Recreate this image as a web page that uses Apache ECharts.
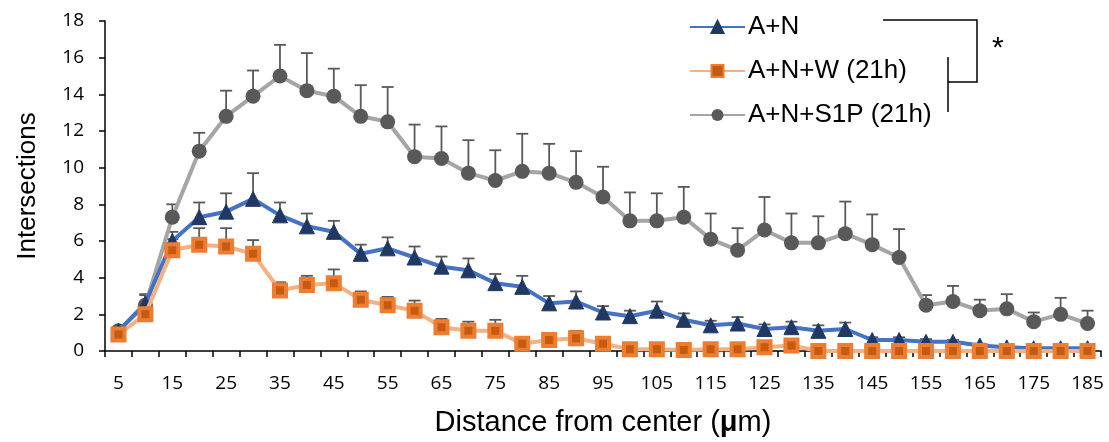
<!DOCTYPE html>
<html>
<head>
<meta charset="utf-8">
<script src="https://cdn.jsdelivr.net/npm/echarts@6/dist/echarts.min.js"></script>
<style>
  html, body { margin: 0; padding: 0; background: #fff; }
  #chart { width: 1109px; height: 442px; }
</style>
</head>
<body>
<div id="chart"></div>
<script>
// distance from soma (um)
var distance = ['5','10','15','20','25','30','35','40','45','50','55','60','65','70','75','80','85','90','95','100',
                '105','110','115','120','125','130','135','140','145','150','155','160','165','170','175','180','185'];

var anMean = [1.1,2.6,6.0,7.3,7.6,8.3,7.4,6.8,6.5,5.3, 5.6,5.1,4.6,4.4,3.7,3.5,2.6,2.7,2.1,1.9,
              2.2,1.7,1.4,1.5,1.2,1.3,1.1,1.2,0.6,0.6, 0.5,0.5,0.3,0.2,0.15,0.15,0.15];
var anErr  = [0.2,0.5,0.5,0.8,1.0,1.4,0.7,0.7,0.6,0.5, 0.6,0.6,0.55,0.65,0.5,0.6,0.4,0.55,0.35,0.3,
              0.5,0.35,0.25,0.35,0.25,0.3,0.3,0.35,0.15,0.15, 0.15,0.1,0.1,0.1,0.05,0.05,0.05];

var anwMean = [0.9,2.0,5.5,5.8,5.7,5.3,3.3,3.6,3.7,2.8, 2.5,2.2,1.3,1.1,1.1,0.4,0.6,0.7,0.4,0.1,
               0.1,0.05,0.1,0.1,0.2,0.3,0,0,0,0, 0,0,0,0,0,0,0];
var anwErr  = [0.1,0.4,0.6,0.9,1.0,0.75,0.45,0.5,0.75,0.45, 0.45,0.55,0.45,0.5,0.6,0.05,0.35,0.4,0.1,0.1,
               0.1,0.05,0.05,0.05,0.1,0.15,0,0,0,0, 0,0,0,0,0,0,0];

var s1pMean = [1.1,2.5,7.3,10.9,12.8,13.9,15.0,14.2,13.9,12.8, 12.5,10.6,10.5,9.7,9.3,9.8,9.7,9.2,8.4,7.1,
               7.1,7.3,6.1,5.5,6.6,5.9,5.9,6.4,5.8,5.1, 2.5,2.7,2.2,2.3,1.6,2.0,1.5];
var s1pErr  = [0.2,0.55,0.7,1.0,1.4,1.4,1.7,2.05,1.5,1.7, 1.9,1.75,1.75,1.8,1.65,2.05,1.6,1.7,1.65,1.55,
               1.5,1.65,1.4,1.2,1.8,1.6,1.45,1.75,1.65,1.55, 0.55,0.85,0.6,0.8,0.5,0.9,0.7];

var seriesNames = ['A+N', 'A+N+W (21h)', 'A+N+S1P (21h)'];

function errData(mean, err) {
    var out = [];
    for (var i = 0; i < mean.length; i++) {
        out.push([i, mean[i], err[i]]);
    }
    return out;
}

function errorBars(mean, err) {
    return {
        type: 'custom',
        silent: true,
        z: 1,
        data: errData(mean, err),
        renderItem: function (params, api) {
            var i = api.value(0);
            var v = api.value(1);
            var e = api.value(2);
            var p0 = api.coord([i, v]);
            var p1 = api.coord([i, v + e]);
            var w = 6;
            var st = { stroke: '#595959', lineWidth: 1.8 };
            return {
                type: 'group',
                children: [
                    { type: 'line', shape: { x1: p0[0], y1: p0[1], x2: p1[0], y2: p1[1] }, style: st },
                    { type: 'line', shape: { x1: p1[0] - w, y1: p1[1], x2: p1[0] + w, y2: p1[1] }, style: st }
                ]
            };
        }
    };
}

var myChart = echarts.init(document.getElementById('chart'));
myChart.setOption({
    animation: false,
    textStyle: { fontFamily: 'Liberation Sans' },
    grid: {
        left: 105,
        right: 8,
        top: 21,
        bottom: 88
    },
    legend: {
        orient: 'vertical',
        left: 684,
        top: 9,
        itemWidth: 55,
        itemHeight: 15,
        itemGap: 18,
        data: seriesNames,
        textStyle: { fontSize: 26, color: '#000', fontFamily: 'Liberation Sans', padding: [0, 0, 0, -2] }
    },
    xAxis: {
        type: 'category',
        data: distance,
        boundaryGap: true,
        axisLine: { lineStyle: { color: '#000', width: 1.5 } },
        axisTick: { show: true, interval: 0, length: 6, lineStyle: { color: '#000', width: 1.5 } },
        axisLabel: { interval: 1, color: '#000', fontSize: 19, margin: 23, fontFamily: 'Open Sans' },
        name: 'Distance from center ({b|μ}m)',
        nameLocation: 'middle',
        nameGap: 57,
        nameTextStyle: {
            fontSize: 29, color: '#000', fontFamily: 'Liberation Sans',
            rich: { b: { fontSize: 29, fontWeight: 'bold', color: '#000', fontFamily: 'Liberation Sans' } }
        }
    },
    yAxis: {
        type: 'value',
        min: 0,
        max: 18,
        interval: 2,
        splitLine: { show: false },
        axisLine: { show: true, lineStyle: { color: '#000', width: 1.5 } },
        axisTick: { show: true, length: 6, lineStyle: { color: '#000', width: 1.5 } },
        axisLabel: { color: '#000', fontSize: 19, margin: 21, fontFamily: 'Open Sans' },
        name: 'Intersections',
        nameLocation: 'middle',
        nameGap: 64,
        nameTextStyle: { fontSize: 26, color: '#000', fontFamily: 'Liberation Sans' }
    },
    graphic: [
        { type: 'polyline', shape: { points: [[883, 20], [977, 20], [977, 82], [948, 82]] },
          style: { stroke: '#000', lineWidth: 1.5, fill: null } },
        { type: 'line', shape: { x1: 948, y1: 57, x2: 948, y2: 112 }, style: { stroke: '#000', lineWidth: 1.5 } },
        { type: 'text', left: 992, top: 34, style: { text: '*', fontSize: 30, fill: '#000', fontFamily: 'Liberation Sans' } }
    ],
    series: [
        errorBars(s1pMean, s1pErr),
        errorBars(anMean, anErr),
        errorBars(anwMean, anwErr),
        {
            name: 'A+N+S1P (21h)',
            type: 'line',
            z: 2,
            data: s1pMean,
            symbol: 'circle',
            symbolSize: 15,
            lineStyle: { color: '#A5A5A5', width: 4 },
            itemStyle: { color: '#595959', borderColor: '#595959', borderWidth: 0 }
        },
        {
            name: 'A+N',
            type: 'line',
            z: 3,
            data: anMean,
            symbol: 'triangle',
            symbolSize: 15,
            lineStyle: { color: '#4472C4', width: 4 },
            itemStyle: { color: '#203864', borderColor: '#203864', borderWidth: 1 }
        },
        {
            name: 'A+N+W (21h)',
            type: 'line',
            z: 4,
            data: anwMean,
            symbol: 'rect',
            symbolSize: 12,
            lineStyle: { color: '#F4B183', width: 4 },
            itemStyle: { color: '#C55A11', borderColor: '#ED7D31', borderWidth: 4 }
        }
    ]
});
</script>
</body>
</html>
